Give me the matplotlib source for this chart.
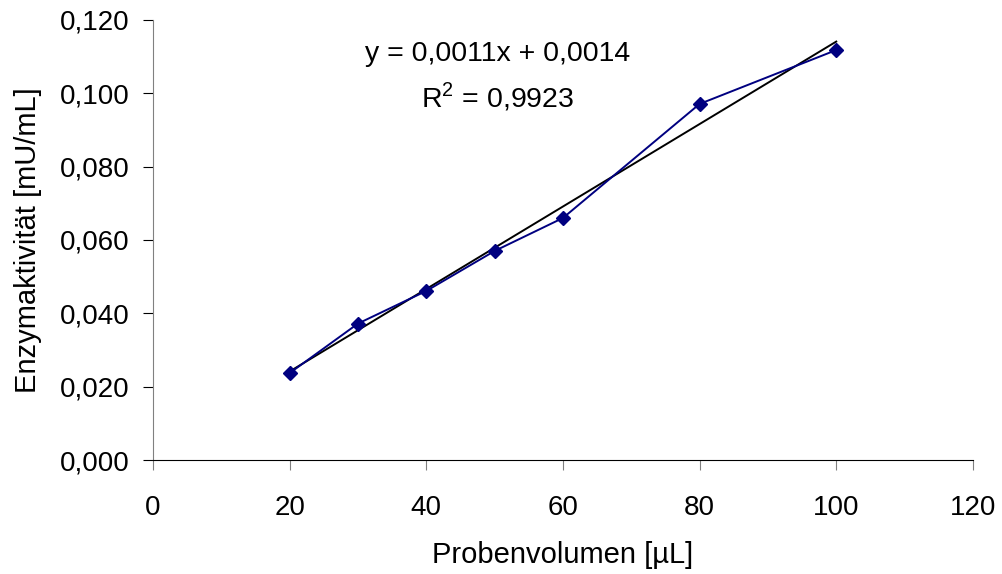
import numpy as np
import matplotlib.pyplot as plt
from matplotlib.ticker import FuncFormatter

volumen = [20, 30, 40, 50, 60, 80, 100]
aktivitaet = [0.0237, 0.0372, 0.0461, 0.0570, 0.0660, 0.0971, 0.1118]
gleichung = "y = 0,0011x + 0,0014"
bestimmtheit = "R$^2$ = 0,9923"

plt.rcParams['font.family'] = ['Liberation Sans', 'DejaVu Sans']
plt.rcParams['mathtext.fontset'] = 'custom'
plt.rcParams['mathtext.rm'] = 'Liberation Sans'

fig = plt.figure(figsize=(10.03, 5.74), dpi=100)
ax = fig.add_axes([0.1525, 0.1986, 0.8175, 0.7666])

ax.plot(volumen, aktivitaet, color='#000080', lw=1.4, marker='D', ms=7,
        markeredgecolor='#000080', zorder=3)

# lineare Trendlinie
m, b = np.polyfit(volumen, aktivitaet, 1)
xs = np.array([volumen[0], volumen[-1]])
ax.plot(xs, m * xs + b, color='black', lw=1.4, zorder=2)

ax.text(0.42, 0.923, gleichung, transform=ax.transAxes, ha='center', va='center', fontsize=20.5)
ax.text(0.42, 0.825, bestimmtheit, transform=ax.transAxes, ha='center', va='center', fontsize=20.5)

ax.set_xlim(0, 120)
ax.set_ylim(0, 0.12)
ax.set_xticks(np.arange(0, 121, 20))
ax.set_yticks(np.arange(0, 0.1201, 0.02))
ax.yaxis.set_major_formatter(FuncFormatter(lambda v, p: f"{v:.3f}".replace('.', ',')))

for s in ['top', 'right']:
    ax.spines[s].set_visible(False)
ax.spines['left'].set_color('#808080')
ax.spines['bottom'].set_color('black')
ax.tick_params(axis='both', direction='out', length=7, labelsize=20)
ax.tick_params(axis='x', color='#808080', pad=18.5)
ax.tick_params(axis='y', color='black', pad=10)

ax.set_xlabel("Probenvolumen [µL]", fontsize=21, labelpad=14)
ax.set_ylabel("Enzymaktivität [mU/mL]", fontsize=21, labelpad=13)

fig.savefig("out.png", dpi=100)
